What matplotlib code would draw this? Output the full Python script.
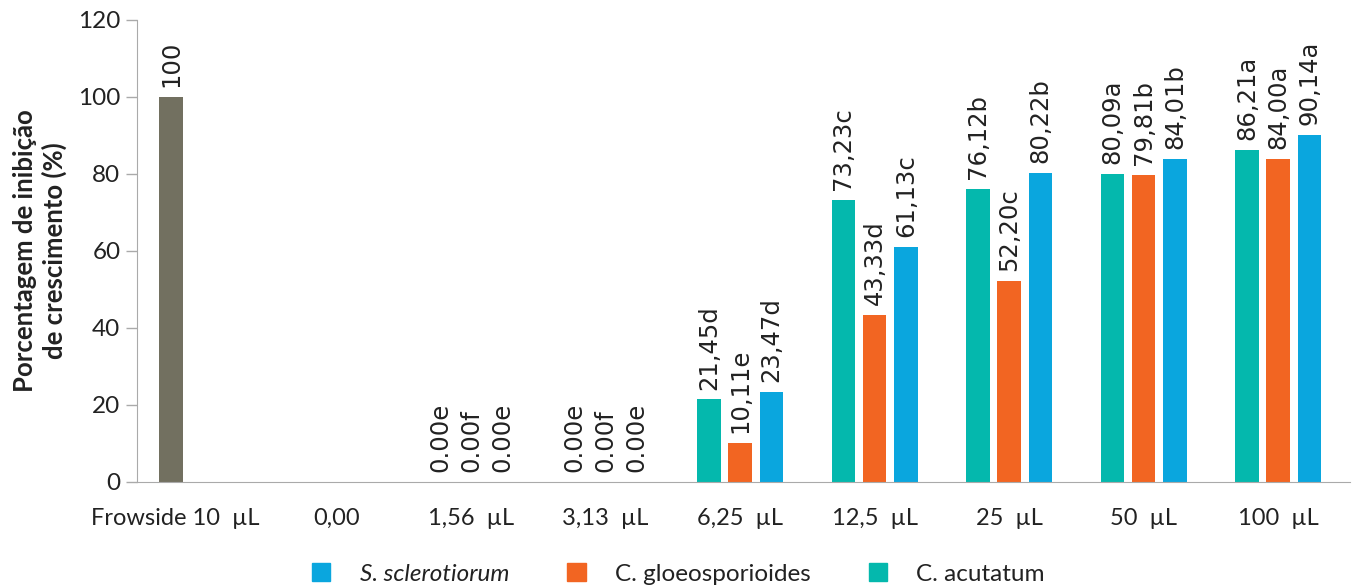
import matplotlib.pyplot as plt
from matplotlib.patches import Patch
import numpy as np

plt.rcParams['font.family'] = ['Lato', 'DejaVu Sans']

# dose categories along the x axis
categories = ["Frowside 10  µL", "0,00", "1,56  µL", "3,13  µL", "6,25  µL",
              "12,5  µL", "25  µL", "50  µL", "100  µL"]

# reference fungicide
frowside = 100
frowside_label = "100"

# inhibition (%) per dose, starting at 1,56 µL
acutatum = [0.00, 0.00, 21.45, 73.23, 76.12, 80.09, 86.21]
acutatum_lbl = ["0.00e", "0.00e", "21,45d", "73,23c", "76,12b", "80,09a", "86,21a"]
gloeo = [0.00, 0.00, 10.11, 43.33, 52.20, 79.81, 84.00]
gloeo_lbl = ["0.00f", "0.00f", "10,11e", "43,33d", "52,20c", "79,81b", "84,00a"]
sclero = [0.00, 0.00, 23.47, 61.13, 80.22, 84.01, 90.14]
sclero_lbl = ["0.00e", "0.00e", "23,47d", "61,13c", "80,22b", "84,01b", "90,14a"]

c_acu = "#04B8AD"
c_glo = "#F26522"
c_scl = "#0AA6DE"
c_frw = "#727060"
gray = "#AAAAAA"
txt = "#222222"

fig = plt.figure(figsize=(13.57, 5.87), dpi=100)
ax = fig.add_axes([0.101, 0.179, 0.894, 0.787])

w = 0.175
off = 0.232
x = np.arange(2, len(categories))

ax.bar(0 - off, frowside, w, color=c_frw)
b1 = ax.bar(x - off, acutatum, w, color=c_acu)
b2 = ax.bar(x, gloeo, w, color=c_glo)
b3 = ax.bar(x + off, sclero, w, color=c_scl)

lbl_font = dict(rotation=90, ha='center', va='bottom', fontsize=17.5,
                color=txt, family=['Liberation Sans Narrow', 'DejaVu Sans'])
ax.annotate(frowside_label, (0 - off, frowside), xytext=(0, 7),
            textcoords='offset points', **lbl_font)
for bars, labels in [(b1, acutatum_lbl), (b2, gloeo_lbl), (b3, sclero_lbl)]:
    for b, t in zip(bars, labels):
        ax.annotate(t, (b.get_x() + b.get_width() / 2, b.get_height()),
                    xytext=(0, 7), textcoords='offset points', **lbl_font)

ax.set_xlim(-0.483, 8.535)
ax.set_ylim(0, 120)
ax.set_yticks(range(0, 121, 20))
tick_pos = [-0.2] + list(range(1, len(categories)))
ax.set_xticks(tick_pos)
ax.set_xticklabels(categories)
ax.tick_params(axis='x', length=0, pad=19, labelsize=17, labelcolor=txt)
ax.tick_params(axis='y', length=8, width=1, color=gray, labelsize=17.5,
               labelcolor=txt, pad=4)
for s in ['top', 'right']:
    ax.spines[s].set_visible(False)
ax.spines['left'].set_color(gray)
ax.spines['bottom'].set_color(gray)
ax.set_ylabel("Porcentagem de inibição\nde crescimento (%)", fontsize=18.5,
              fontweight='bold', color=txt, labelpad=8, linespacing=1.2)

handles = [Patch(color=c_scl), Patch(color=c_glo), Patch(color=c_acu)]
leg = fig.legend(handles, ["S. sclerotiorum", "C. gloeosporioides", "C. acutatum"],
                 loc='center', bbox_to_anchor=(0.5, 0.022), ncol=3, frameon=False,
                 fontsize=17.5, handlelength=0.75, handleheight=0.75,
                 handletextpad=1.2, columnspacing=2.4)
leg.get_texts()[0].set_fontstyle('italic')
for t in leg.get_texts():
    t.set_color(txt)

fig.savefig("out.png", dpi=100)
